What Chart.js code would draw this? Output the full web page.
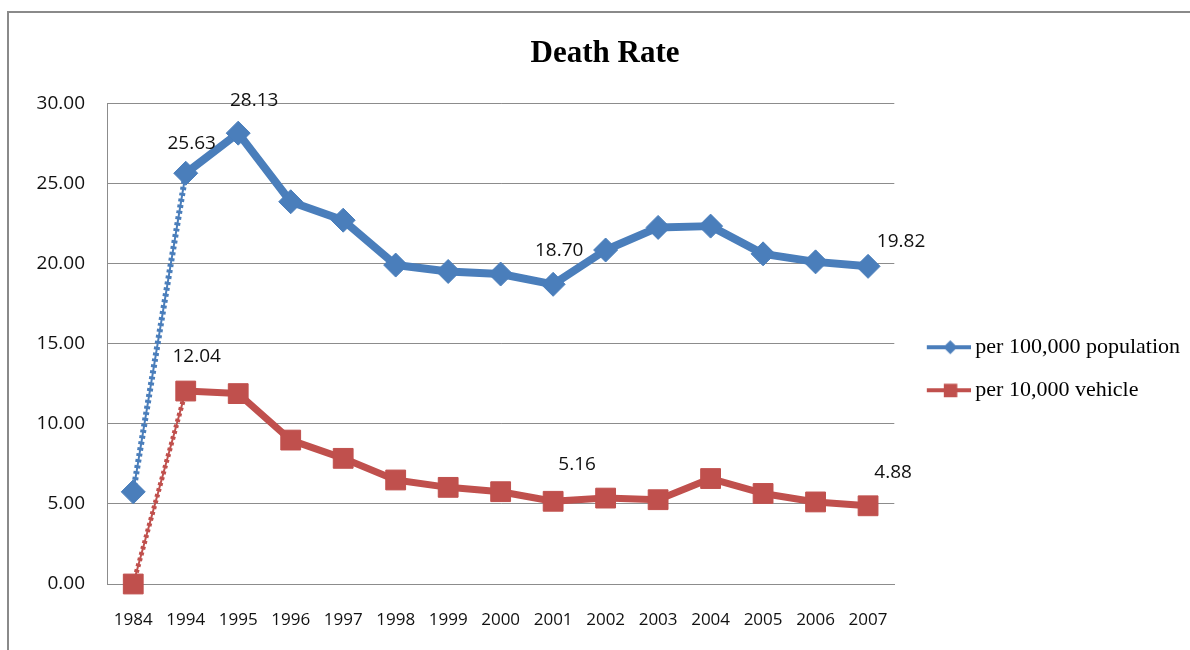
<!DOCTYPE html>
<html>
<head>
<meta charset="utf-8">
<title>Death Rate</title>
<script src="https://cdn.jsdelivr.net/npm/chart.js@4/dist/chart.umd.min.js"></script>
<style>
  html, body { margin: 0; padding: 0; background: #fff; overflow: hidden; }
  #frame { position: absolute; left: 7px; top: 11px; width: 1300px; height: 800px; border: 2px solid #8a8a8a; }
  #chart { position: absolute; left: 0; top: 0; }
</style>
</head>
<body>
<div id="frame"></div>
<canvas id="chart" width="1190" height="650"></canvas>
<script>
// Years on the category axis
const years = ['1984', '1994', '1995', '1996', '1997', '1998', '1999', '2000',
               '2001', '2002', '2003', '2004', '2005', '2006', '2007'];

// Deaths per 100,000 population
const perPopulation = [5.75, 25.63, 28.13, 23.85, 22.70, 19.90, 19.50, 19.34,
                       18.70, 20.84, 22.25, 22.33, 20.60, 20.10, 19.82];

// Deaths per 10,000 vehicles
const perVehicle = [0.00, 12.04, 11.88, 8.98, 7.84, 6.49, 6.03, 5.76,
                    5.16, 5.36, 5.26, 6.58, 5.65, 5.12, 4.88];

const seriesNames = ['per 100,000 population', 'per 10,000 vehicle'];

// Points that carry a value label, by series
const labelledPopulation = [1, 2, 8, 14];
const labelledVehicle = [1, 8, 14];

const BLUE = '#4a7ebb';
const RED = '#c0504d';

// Legend swatch: short line with the series marker on it
function legendSwatch(color, marker) {
  const c = document.createElement('canvas');
  c.width = 62; c.height = 26;
  const g = c.getContext('2d');
  g.strokeStyle = color; g.lineWidth = 4;
  g.beginPath(); g.moveTo(18, 13); g.lineTo(62, 13); g.stroke();
  g.fillStyle = color;
  g.beginPath();
  if (marker === 'diamond') {
    g.moveTo(41.5, 6); g.lineTo(48.5, 13); g.lineTo(41.5, 20); g.lineTo(34.5, 13); g.closePath();
  } else {
    g.rect(35, 6.5, 13.5, 13.5);
  }
  g.fill();
  return c;
}
const swatches = [legendSwatch(BLUE, 'diamond'), legendSwatch(RED, 'square')];

// Label offsets (dx, dy) relative to the point, per series
const labelOffsets = [
  { 1: [6, -30], 2: [16, -33], 8: [6, -34], 14: [33, -25] },
  { 1: [11, -34], 8: [24, -37], 14: [25, -33] }
];

const valueLabels = {
  id: 'valueLabels',
  afterDatasetsDraw(chart) {
    const ctx = chart.ctx;
    const sets = [labelledPopulation, labelledVehicle];
    ctx.save();
    ctx.font = '19px "Open Sans"';
    ctx.fillStyle = '#111';
    ctx.textAlign = 'center';
    ctx.textBaseline = 'middle';
    sets.forEach((idxs, di) => {
      const meta = chart.getDatasetMeta(di);
      const values = chart.data.datasets[di].data;
      idxs.forEach(i => {
        const pt = meta.data[i];
        const off = labelOffsets[di][i];
        ctx.fillText(values[i].toFixed(2), pt.x + off[0], pt.y + off[1]);
      });
    });
    ctx.restore();
  }
};

const firstSegment = (val, other) => ctx => ctx.p0DataIndex === 0 ? val : other;

new Chart(document.getElementById('chart'), {
  type: 'line',
  data: {
    labels: years,
    datasets: [
      {
        label: seriesNames[0],
        data: perPopulation,
        borderColor: BLUE,
        backgroundColor: BLUE,
        borderWidth: 8,
        pointStyle: 'rectRot',
        pointRadius: 12,
        pointBorderWidth: 1,
        pointHoverRadius: 12,
        borderJoinStyle: 'round',
        clip: false,
        segment: {
          borderDash: firstSegment([3, 3], undefined),
          borderWidth: firstSegment(6, undefined)
        }
      },
      {
        label: seriesNames[1],
        data: perVehicle,
        borderColor: RED,
        backgroundColor: RED,
        borderWidth: 7,
        pointStyle: 'rect',
        pointRadius: 14,
        pointBorderWidth: 1,
        pointHoverRadius: 14,
        borderJoinStyle: 'round',
        clip: false,
        segment: {
          borderDash: firstSegment([3, 3], undefined),
          borderWidth: firstSegment(5, undefined)
        }
      },
      {
        label: 'thin-population',
        data: perPopulation.map((v, i) => i < 2 ? v : null),
        borderColor: BLUE,
        borderWidth: 2,
        pointRadius: 0,
        spanGaps: false,
        clip: false
      },
      {
        label: 'thin-vehicle',
        data: perVehicle.map((v, i) => i < 2 ? v : null),
        borderColor: RED,
        borderWidth: 2,
        pointRadius: 0,
        spanGaps: false,
        clip: false
      }
    ]
  },
  options: {
    responsive: false,
    animation: false,
    events: [],
    layout: { padding: { left: 20, right: 0, top: 0, bottom: 20 } },
    plugins: {
      tooltip: { enabled: false },
      title: {
        display: true,
        text: 'Death Rate',
        color: '#000',
        font: { family: '"Liberation Serif"', size: 31, weight: 'bold', lineHeight: 1.2 },
        padding: { top: 35, bottom: 31 }
      },
      legend: {
        position: 'right',
        align: 'center',
        maxWidth: 296,
        title: {
          display: true,
          text: '',
          font: { size: 12, lineHeight: 1.2 },
          padding: { top: 93, bottom: 0 }
        },
        labels: {
          usePointStyle: true,
          pointStyleWidth: 49,
          padding: 21,
          color: '#000',
          font: { family: '"Liberation Serif"', size: 22 },
          generateLabels: chart => seriesNames.map((name, i) => ({
            text: name,
            fontColor: '#000',
            pointStyle: swatches[i],
            fillStyle: chart.data.datasets[i].borderColor,
            strokeStyle: chart.data.datasets[i].borderColor,
            lineWidth: 0,
            hidden: false,
            datasetIndex: i
          }))
        }
      }
    },
    scales: {
      x: {
        offset: true,
        afterFit: scale => { scale.height = 46; },
        grid: { display: false, drawTicks: false, offset: true },
        border: { display: true, color: '#8c8c8c', width: 1 },
        ticks: {
          color: '#111',
          padding: 26,
          maxRotation: 0,
          autoSkip: false,
          font: { family: '"Open Sans"', size: 17 }
        }
      },
      y: {
        min: 0,
        max: 30,
        afterFit: scale => { scale.width = 87; },
        grid: { color: '#8c8c8c', lineWidth: 1, drawTicks: false },
        border: { display: true, color: '#8c8c8c', width: 1 },
        ticks: {
          stepSize: 5,
          padding: 22,
          color: '#111',
          font: { family: '"Open Sans"', size: 19 },
          callback: v => Number(v).toFixed(2)
        }
      }
    }
  },
  plugins: [valueLabels]
});
</script>
</body>
</html>
